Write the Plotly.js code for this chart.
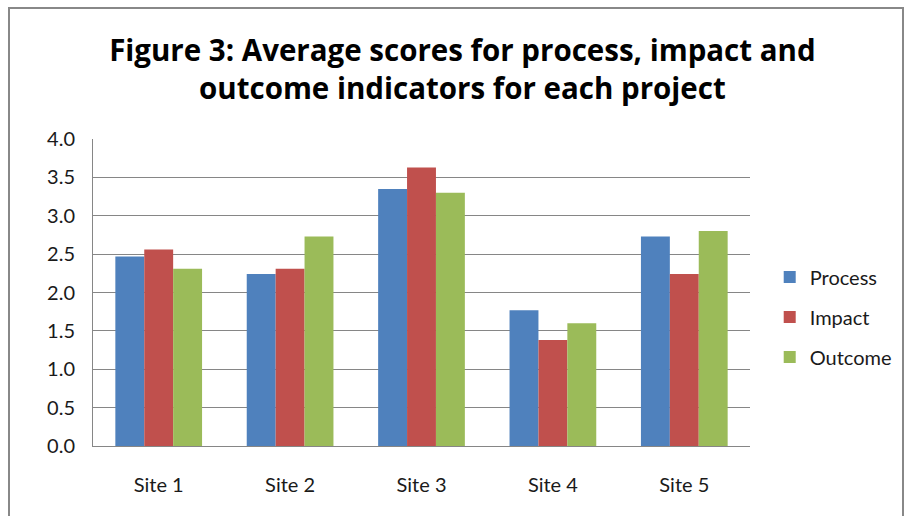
<!DOCTYPE html>
<html>
<head>
<meta charset="utf-8">
<script src="https://cdn.plot.ly/plotly-3.0.1.min.js"></script>
<style>
  html, body { margin: 0; padding: 0; background: #fff; overflow: hidden; }
  #wrap { position: relative; width: 912px; height: 516px; }
  #chart { position: absolute; left: 0; top: 0; width: 912px; height: 516px; }
  #frame { position: absolute; left: 8px; top: 7px; width: 896px; height: 520px;
           border: 2px solid #888888; box-sizing: border-box; pointer-events: none; }
</style>
</head>
<body>
<div id="wrap">
  <div id="chart"></div>
  <div id="frame"></div>
</div>
<script>
const categories = ["Site 1", "Site 2", "Site 3", "Site 4", "Site 5"];
const processScores = [2.47, 2.24, 3.35, 1.77, 2.73];
const impactScores  = [2.56, 2.31, 3.63, 1.38, 2.24];
const outcomeScores = [2.31, 2.73, 3.30, 1.60, 2.80];
const seriesNames = ["Process", "Impact", "Outcome"];
const seriesColors = ["#4f81bd", "#c0504d", "#9bbb59"];
const yTickVals = [0, 0.5, 1, 1.5, 2, 2.5, 3, 3.5, 4];
const yTickText = ["0.0", "0.5", "1.0", "1.5", "2.0", "2.5", "3.0", "3.5", "4.0"];
const titleLine1 = "Figure 3: Average scores for process, impact and";
const titleLine2 = "outcome indicators for each project";

const allSeries = [processScores, impactScores, outcomeScores];
const traces = allSeries.map((vals, i) => ({
  type: "bar",
  name: seriesNames[i],
  x: categories,
  y: vals,
  marker: { color: seriesColors[i], line: { width: 0 } },
  legendgroup: "g" + i,
  hoverinfo: "x+y+name"
}));

const layout = {
  width: 912,
  height: 516,
  margin: { l: 93, r: 162, t: 139, b: 70, pad: 0 },
  paper_bgcolor: "#ffffff",
  plot_bgcolor: "#ffffff",
  barmode: "group",
  bargap: 0.34,
  bargroupgap: 0,
  font: { family: "Lato, 'Open Sans', sans-serif", color: "#1a1a1a" },
  title: {
    text: "<b>" + titleLine1 + "<br>" + titleLine2 + "</b>",
    font: { family: "'Open Sans', 'Noto Sans', sans-serif", size: 29.5, color: "#000000", weight: "bold" },
    x: 0.507,
    xanchor: "center",
    xref: "container",
    yref: "container",
    y: 1 - 61 / 516,
    yanchor: "top"
  },
  xaxis: {
    type: "category",
    showgrid: false,
    showline: true,
    linecolor: "#868686",
    linewidth: 1,
    ticks: "",
    tickfont: { size: 20, color: "#1a1a1a" },
    ticklabelstandoff: 21,
    fixedrange: true
  },
  yaxis: {
    range: [0, 4],
    tickvals: yTickVals,
    ticktext: yTickText,
    showgrid: true,
    gridcolor: "#868686",
    gridwidth: 1,
    showline: true,
    linecolor: "#868686",
    linewidth: 1,
    zeroline: false,
    ticks: "",
    tickfont: { size: 20, color: "#1a1a1a" },
    ticklabelstandoff: 13,
    fixedrange: true
  },
  showlegend: true,
  legend: {
    x: 1.03,
    xanchor: "left",
    y: 0.42,
    yanchor: "middle",
    font: { size: 20, color: "#1a1a1a" },
    tracegroupgap: 11,
    itemwidth: 30,
    bgcolor: "rgba(0,0,0,0)"
  }
};

Plotly.newPlot("chart", traces, layout, { displayModeBar: false, staticPlot: true });
</script>
</body>
</html>
